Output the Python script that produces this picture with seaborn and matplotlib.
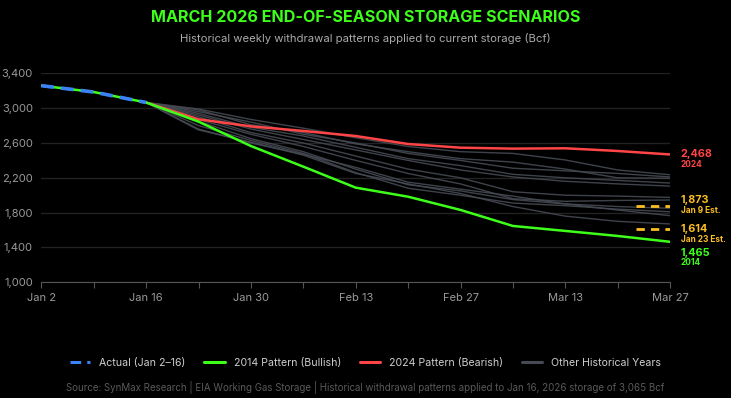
import numpy as np
import pandas as pd
import matplotlib
matplotlib.use("Agg")
import matplotlib.pyplot as plt
import seaborn as sns

# weekly dates, Jan 2 .. Mar 27 2026
weeks = pd.date_range("2026-01-02", "2026-03-27", freq="7D")
tick_labels = ["Jan 2", "", "Jan 16", "", "Jan 30", "", "Feb 13", "", "Feb 27", "", "Mar 13", "", "Mar 27"]

actual = [3258, 3185, 3065]
pattern_2014 = [3065, 2845, 2565, 2328, 2087, 1983, 1831, 1647, 1590, 1532, 1465]
pattern_2024 = [3065, 2872, 2791, 2738, 2680, 2588, 2546, 2535, 2539, 2508, 2468]

# other historical years (Jan 16 onward)
other_years = [
    [3065, 2990, 2870, 2770, 2660, 2560, 2500, 2480, 2405, 2290, 2235],
    [3065, 2960, 2840, 2700, 2600, 2480, 2400, 2310, 2280, 2250, 2210],
    [3065, 2980, 2810, 2720, 2590, 2500, 2420, 2380, 2300, 2200, 2195],
    [3065, 2940, 2780, 2680, 2550, 2420, 2340, 2240, 2200, 2170, 2140],
    [3065, 2920, 2760, 2640, 2520, 2400, 2290, 2210, 2160, 2130, 2105],
    [3065, 2900, 2720, 2600, 2450, 2300, 2200, 2040, 2000, 1990, 1975],
    [3065, 2870, 2700, 2560, 2400, 2250, 2130, 1960, 1930, 1940, 1945],
    [3065, 2850, 2650, 2500, 2300, 2120, 2050, 1950, 1900, 1870, 1850],
    [3065, 2800, 2630, 2480, 2260, 2080, 2000, 1910, 1880, 1840, 1810],
    [3065, 2760, 2600, 2470, 2320, 2150, 2070, 1990, 1900, 1830, 1765],
    [3065, 2750, 2610, 2460, 2250, 2130, 2020, 1870, 1760, 1700, 1670],
]

est_values = [1873, 1614]
est_labels = ["Jan 9 Est.", "Jan 23 Est."]

GREEN = "#3dff1a"
RED = "#ff4545"
BLUE = "#3b82f6"
GOLD = "#fbbf24"
GRAY = "#464a53"

sns.set_theme(style="dark")
plt.rcParams["font.family"] = ["Inter", "DejaVu Sans"]

fig = plt.figure(figsize=(7.31, 3.98), dpi=100, facecolor="black")
ax = fig.add_axes([0.0565, 0.2907, 0.8602, 0.5251])
ax.set_facecolor("black")

proj = weeks[2:]
for i, vals in enumerate(other_years):
    sns.lineplot(x=proj, y=vals, ax=ax, color=GRAY, linewidth=1.0, alpha=0.9,
                 label="Other Historical Years" if i == 0 else None)

sns.lineplot(x=proj, y=pattern_2024, ax=ax, color=RED, linewidth=1.8, label="2024 Pattern (Bearish)")
sns.lineplot(x=proj, y=pattern_2014, ax=ax, color=GREEN, linewidth=1.8, label="2014 Pattern (Bullish)")
# green runs under the blue dashes too
ax.plot(weeks[:3], actual, color=GREEN, linewidth=1.8)
sns.lineplot(x=weeks[:3], y=actual, ax=ax, color=BLUE, linewidth=2.6, label="Actual (Jan 2\u201316)")
ax.lines[-1].set_dashes([3.5, 2])

# estimate markers
for v in est_values:
    ax.hlines(v, weeks[-1] - pd.Timedelta(days=4.6), weeks[-1], color=GOLD, linewidth=2,
              linestyles=(0, (3, 2.2)))

ax.set_ylim(1000, 3400)
ax.set_xlim(weeks[0], weeks[-1])
ax.set_yticks(np.arange(1000, 3401, 400))
ax.set_yticklabels([f"{v:,}" for v in range(1000, 3401, 400)])
ax.set_xticks(weeks)
ax.set_xticklabels(tick_labels)
ax.tick_params(axis="x", colors="#9a9a9a", labelsize=8, length=4, width=0.8, color="#555555", pad=4, bottom=True)
ax.tick_params(axis="y", colors="#9a9a9a", labelsize=8, length=0, pad=6)
ax.grid(axis="y", color="#222222", linewidth=1)
ax.grid(axis="x", visible=False)
for s in ["top", "right", "left"]:
    ax.spines[s].set_visible(False)
ax.spines["bottom"].set_color("#555555")
ax.spines["bottom"].set_linewidth(0.8)
ax.set_xlabel("")
ax.set_ylabel("")

# right-side labels: (value, sub label, colour, value offset pt, sub offset pt)
xt = weeks[-1] + pd.Timedelta(days=1.4)
ends = [
    (pattern_2024[-1], "2024", RED, 0.5, -7),
    (est_values[0], est_labels[0], GOLD, 4.7, -3.3),
    (est_values[1], est_labels[1], GOLD, 0, -8),
    (pattern_2014[-1], "2014", GREEN, -8, -15),
]
for val, sub, col, dv, ds in ends:
    ax.annotate(f"{val:,}", (xt, val), xytext=(0, dv), textcoords="offset points",
                color=col, fontsize=7.8, fontweight="bold", va="center", ha="left", annotation_clip=False)
    ax.annotate(sub, (xt, val), xytext=(0, ds), textcoords="offset points",
                color=col, fontsize=6, fontweight="bold", va="center", ha="left", annotation_clip=False)

# legend
handles, labels = ax.get_legend_handles_labels()
order = ["Actual (Jan 2\u201316)", "2014 Pattern (Bullish)", "2024 Pattern (Bearish)", "Other Historical Years"]
hmap = dict(zip(labels, handles))
leg = ax.legend([hmap[k] for k in order], order, loc="center",
                bbox_to_anchor=(0.5, 1 - 363 / 398), bbox_transform=fig.transFigure,
                ncol=4, frameon=False, fontsize=7.6, labelcolor="#cfcfcf",
                handlelength=1.9, columnspacing=1.8, handletextpad=0.85)
for h in leg.get_lines():
    h.set_linewidth(2.2)
    h.set_alpha(1)

fig.text(0.5, 1 - 17 / 398, "MARCH 2026 END-OF-SEASON STORAGE SCENARIOS", ha="center", va="center",
         color=GREEN, fontsize=11.6, fontweight="bold")
fig.text(0.5, 1 - 39 / 398, "Historical weekly withdrawal patterns applied to current storage (Bcf)",
         ha="center", va="center", color="#aaaaaa", fontsize=8.1)
fig.text(0.5, 1 - 387 / 398,
         "Source: SynMax Research | EIA Working Gas Storage | Historical withdrawal patterns applied to Jan 16, 2026 storage of 3,065 Bcf",
         ha="center", va="center", color="#5a5a5a", fontsize=7)

fig.savefig("out.png", dpi=100, facecolor="black")
